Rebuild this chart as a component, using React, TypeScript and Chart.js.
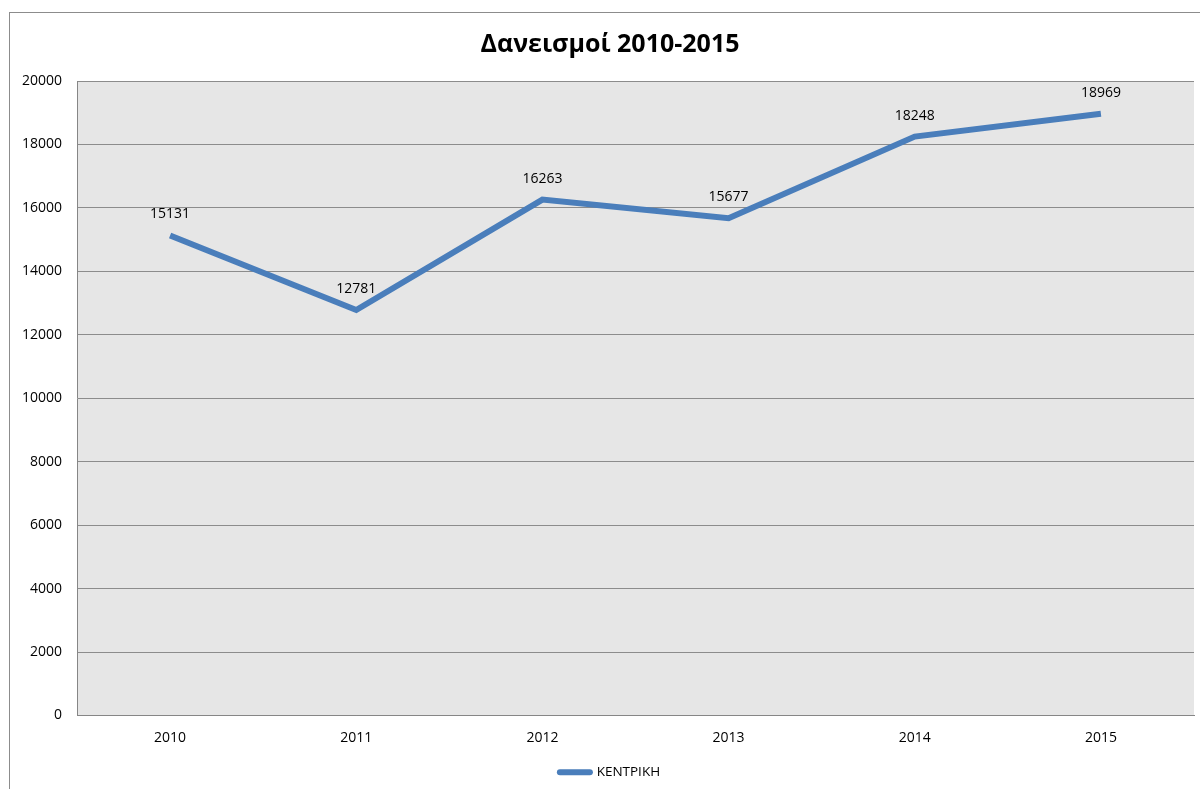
import React, { useEffect, useRef } from "react";
import { Chart, registerables } from "chart.js";

Chart.register(...registerables);

const TITLE = "Δανεισμοί 2010-2015";
const YEARS = ["2010", "2011", "2012", "2013", "2014", "2015"];
const LOANS = [15131, 12781, 16263, 15677, 18248, 18969];
const SERIES_NAME = "ΚΕΝΤΡΙΚΗ";
const Y_MIN = 0;
const Y_MAX = 20000;
const Y_STEP = 2000;

const FONT = "'Open Sans', 'Noto Sans', sans-serif";
const LINE_COLOR = "#4a7ebb";

const bgPlugin = {
  id: "plotBg",
  beforeDraw(chart: any) {
    const { ctx, chartArea } = chart;
    if (!chartArea) return;
    ctx.save();
    ctx.fillStyle = "#e6e6e6";
    ctx.fillRect(chartArea.left, chartArea.top, chartArea.right - chartArea.left, chartArea.bottom - chartArea.top);
    ctx.restore();
  },
};

const labelPlugin = {
  id: "pointLabels",
  afterDatasetsDraw(chart: any) {
    const { ctx } = chart;
    const meta = chart.getDatasetMeta(0);
    const data = chart.data.datasets[0].data;
    ctx.save();
    ctx.font = `14px ${FONT}`;
    ctx.fillStyle = "#000";
    ctx.textAlign = "center";
    ctx.textBaseline = "middle";
    meta.data.forEach((pt: any, i: number) => {
      ctx.fillText(String(data[i]), pt.x, pt.y - 21);
    });
    ctx.restore();
  },
};

export default function App() {
  const ref = useRef<HTMLCanvasElement | null>(null);

  useEffect(() => {
    if (!ref.current) return;
    const chart = new Chart(ref.current, {
      type: "line",
      data: {
        labels: YEARS,
        datasets: [
          {
            label: SERIES_NAME,
            data: LOANS,
            borderColor: LINE_COLOR,
            backgroundColor: LINE_COLOR,
            borderWidth: 6,
            pointRadius: 0,
            pointHoverRadius: 0,
            tension: 0,
            fill: false,
            yAxisID: "y",
          },
        ],
      },
      options: {
        animation: false,
        responsive: false,
        layout: { padding: 0 },
        plugins: {
          title: {
            display: true,
            text: TITLE,
            color: "#000",
            font: { family: FONT, size: 25, weight: "bold" },
            padding: { top: 17, bottom: 21 },
          },
          legend: {
            position: "bottom",
            labels: {
              usePointStyle: true,
              pointStyleWidth: 30,
              padding: 10,
              color: "#000",
              font: { family: FONT, size: 13.5 },
              generateLabels: () => [
                {
                  text: SERIES_NAME,
                  fillStyle: LINE_COLOR,
                  strokeStyle: LINE_COLOR,
                  lineWidth: 6,
                  lineCap: "round",
                  pointStyle: "line",
                  hidden: false,
                  datasetIndex: 0,
                  fontColor: "#000",
                } as any,
              ],
            },
          },
          tooltip: { enabled: false },
        },
        scales: {
          x: {
            type: "category",
            offset: true,
            grid: { drawOnChartArea: false, drawTicks: false },
            border: { display: true, color: "#868686", width: 1 },
            ticks: { padding: 14, color: "#000", font: { family: FONT, size: 14 } },
            afterFit: (s: any) => {
              s.height = 40;
            },
          },
          y: {
            min: Y_MIN,
            max: Y_MAX,
            grid: { color: "#8c8c8c", drawTicks: false },
            border: { display: true, color: "#868686", width: 1 },
            ticks: {
              stepSize: Y_STEP,
              padding: 15,
              color: "#000",
              font: { family: FONT, size: 14 },
              callback: (v: any) => String(v),
            },
            afterFit: (s: any) => {
              s.width = 67;
            },
          },
          yRightSpacer: {
            type: "linear",
            position: "right",
            min: Y_MIN,
            max: Y_MAX,
            grid: { drawOnChartArea: false, drawTicks: false },
            border: { display: false },
            ticks: { display: false },
            afterFit: (s: any) => {
              s.width = 16;
            },
          },
        },
      },
      plugins: [bgPlugin, labelPlugin],
    } as any);
    return () => chart.destroy();
  }, []);

  return (
    <div style={{ position: "fixed", left: 0, top: 0, width: 1200, height: 789, overflow: "hidden", background: "#fff" }}>
      <div
        style={{
          position: "absolute",
          left: 9,
          top: 12,
          width: 1240,
          height: 820,
          border: "1px solid #8c8c8c",
        }}
      >
        <canvas ref={ref} width={1200} height={776} style={{ display: "block", width: 1200, height: 776 }} />
      </div>
    </div>
  );
}
